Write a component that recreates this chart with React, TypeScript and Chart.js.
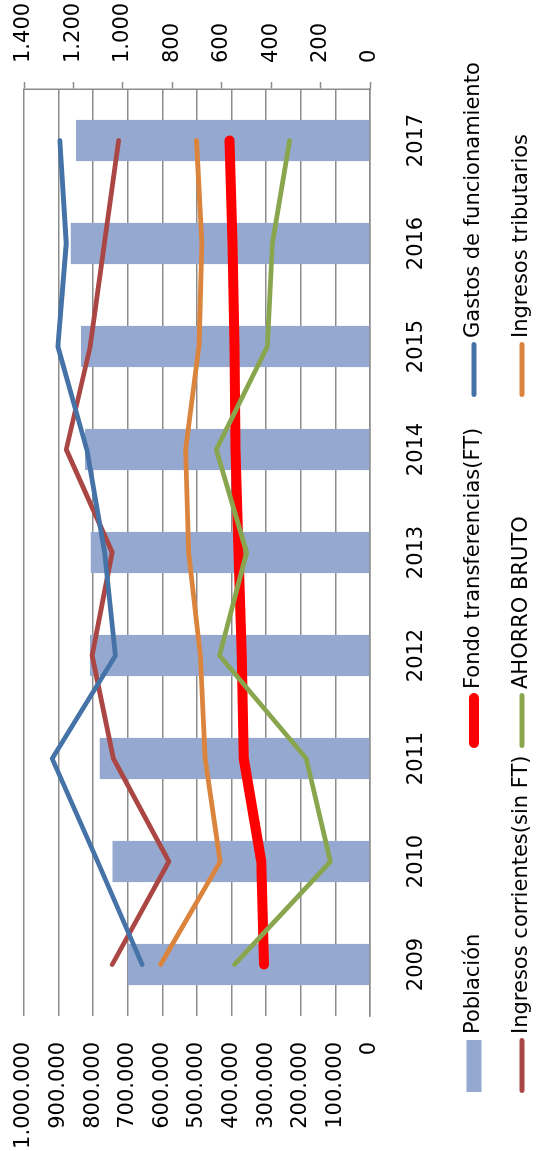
import React, { useEffect, useRef } from "react";
import { Chart, registerables } from "chart.js";

Chart.register(...registerables);

const years = ["2009", "2010", "2011", "2012", "2013", "2014", "2015", "2016", "2017"];
const poblacion = [700000, 744000, 781000, 809000, 807000, 824000, 835000, 865000, 850000];
const ingresosCorrientes = [1043, 814, 1038, 1124, 1043, 1229, 1132, 1075, 1017];
const fondoTransferencias = [429, 440, 511, 519, 532, 544, 548, 556, 568];
const ahorroBruto = [548, 160, 258, 609, 499, 622, 415, 395, 325];
const gastosFuncionamiento = [922, 1102, 1286, 1030, 1074, 1146, 1263, 1229, 1255];
const ingresosTributarios = [847, 606, 667, 686, 734, 746, 692, 680, 702];

const W = 1151;
const H = 541;
const FONT = '"DejaVu Sans", sans-serif';
const LEGEND_COLS = [58, 403, 754];
const LEGEND_ROWS = [474, 522];

const fmt = (v: number) => String(v).replace(/\B(?=(\d{3})+(?!\d))/g, ".");

const gridLegend = {
  id: "gridLegend",
  afterDraw(chart: any) {
    const ctx = chart.ctx;
    ctx.save();
    chart.data.datasets.forEach((ds: any, i: number) => {
      const col = Math.floor(i / 2);
      const row = i % 2;
      const x0 = LEGEND_COLS[col];
      const y = LEGEND_ROWS[row];
      if (ds.type === "bar") {
        ctx.fillStyle = ds.backgroundColor;
        ctx.fillRect(x0 + 1, y - 7.5, 52, 15);
      } else {
        const bw = ds.borderWidth;
        ctx.strokeStyle = ds.borderColor;
        ctx.lineWidth = bw;
        ctx.lineCap = "round";
        ctx.beginPath();
        ctx.moveTo(x0 + bw / 2, y);
        ctx.lineTo(x0 + 55 - bw / 2, y);
        ctx.stroke();
      }
      ctx.fillStyle = "#000";
      ctx.font = `21px ${FONT}`;
      ctx.textBaseline = "middle";
      ctx.textAlign = "left";
      ctx.fillText(ds.label, x0 + 59, y);
    });
    ctx.restore();
  },
};

export default function App() {
  const ref = useRef<HTMLCanvasElement>(null);

  useEffect(() => {
    if (!ref.current) return;
    const line = (label: string, data: number[], color: string, width: number, order: number) => ({
      type: "line" as const,
      label,
      data,
      yAxisID: "y1",
      borderColor: color,
      backgroundColor: color,
      borderWidth: width,
      pointRadius: 0,
      borderJoinStyle: "round" as const,
      borderCapStyle: "round" as const,
      tension: 0,
      order,
    });
    const chart = new Chart(ref.current, {
      data: {
        labels: years,
        datasets: [
          {
            type: "bar",
            label: "Población",
            data: poblacion,
            yAxisID: "y",
            backgroundColor: "#95A9D0",
            barPercentage: 0.4,
            categoryPercentage: 1,
            order: 10,
          } as any,
          line("Ingresos corrientes(sin FT)", ingresosCorrientes, "#AA4643", 4.8, 6),
          line("Fondo transferencias(FT)", fondoTransferencias, "#FF0000", 10, 5),
          line("AHORRO BRUTO", ahorroBruto, "#89A54E", 4.8, 4),
          line("Gastos de funcionamiento", gastosFuncionamiento, "#4572A7", 4.8, 3),
          line("Ingresos tributarios", ingresosTributarios, "#DB843D", 4.8, 2),
        ],
      },
      options: {
        responsive: false,
        animation: false,
        events: [],
        layout: { padding: { top: 24, left: 0, right: 0, bottom: 0 } },
        plugins: { legend: { display: false }, tooltip: { enabled: false } },
        scales: {
          x: {
            type: "category",
            offset: true,
            grid: { display: false, drawTicks: false },
            border: { display: true, color: "#8c8c8c", width: 1.5 },
            ticks: { color: "#000", font: { family: FONT, size: 21 }, padding: 34, maxRotation: 0 },
            afterFit: (s: any) => {
              s.height = H - 370;
              s.paddingLeft = 0;
              s.paddingRight = 0;
            },
          },
          y: {
            type: "linear",
            position: "left",
            min: 0,
            max: 1000000,
            ticks: {
              stepSize: 100000,
              color: "#000",
              font: { family: FONT, size: 21 },
              padding: 26,
              callback: (v: any) => fmt(Number(v)),
            },
            grid: { color: "#8c8c8c", lineWidth: 1.5, drawTicks: false },
            border: { display: false },
            afterFit: (s: any) => {
              s.width = 135;
              s.paddingTop = 0;
              s.paddingBottom = 0;
            },
          },
          y1: {
            type: "linear",
            position: "right",
            min: 0,
            max: 1400,
            ticks: {
              stepSize: 200,
              color: "#000",
              font: { family: FONT, size: 21 },
              padding: 19,
              callback: (v: any) => fmt(Number(v)),
            },
            grid: {
              drawOnChartArea: false,
              drawTicks: true,
              tickLength: 7,
              tickColor: "#8c8c8c",
              tickWidth: 1.5,
            },
            border: { display: true, color: "#8c8c8c", width: 1.5 },
            afterFit: (s: any) => {
              s.width = W - 1062;
              s.paddingTop = 0;
              s.paddingBottom = 0;
            },
          },
        },
      } as any,
      plugins: [gridLegend],
    });
    return () => chart.destroy();
  }, []);

  return (
    <div
      style={{
        position: "absolute",
        left: 0,
        top: 0,
        width: H,
        height: W,
        overflow: "hidden",
        background: "#fff",
      }}
    >
      <div
        style={{
          position: "absolute",
          left: 0,
          top: 0,
          width: W,
          height: H,
          transformOrigin: "0 0",
          transform: `translateY(${W}px) rotate(-90deg)`,
        }}
      >
        <canvas ref={ref} width={W} height={H} style={{ display: "block", width: W, height: H }} />
      </div>
    </div>
  );
}
